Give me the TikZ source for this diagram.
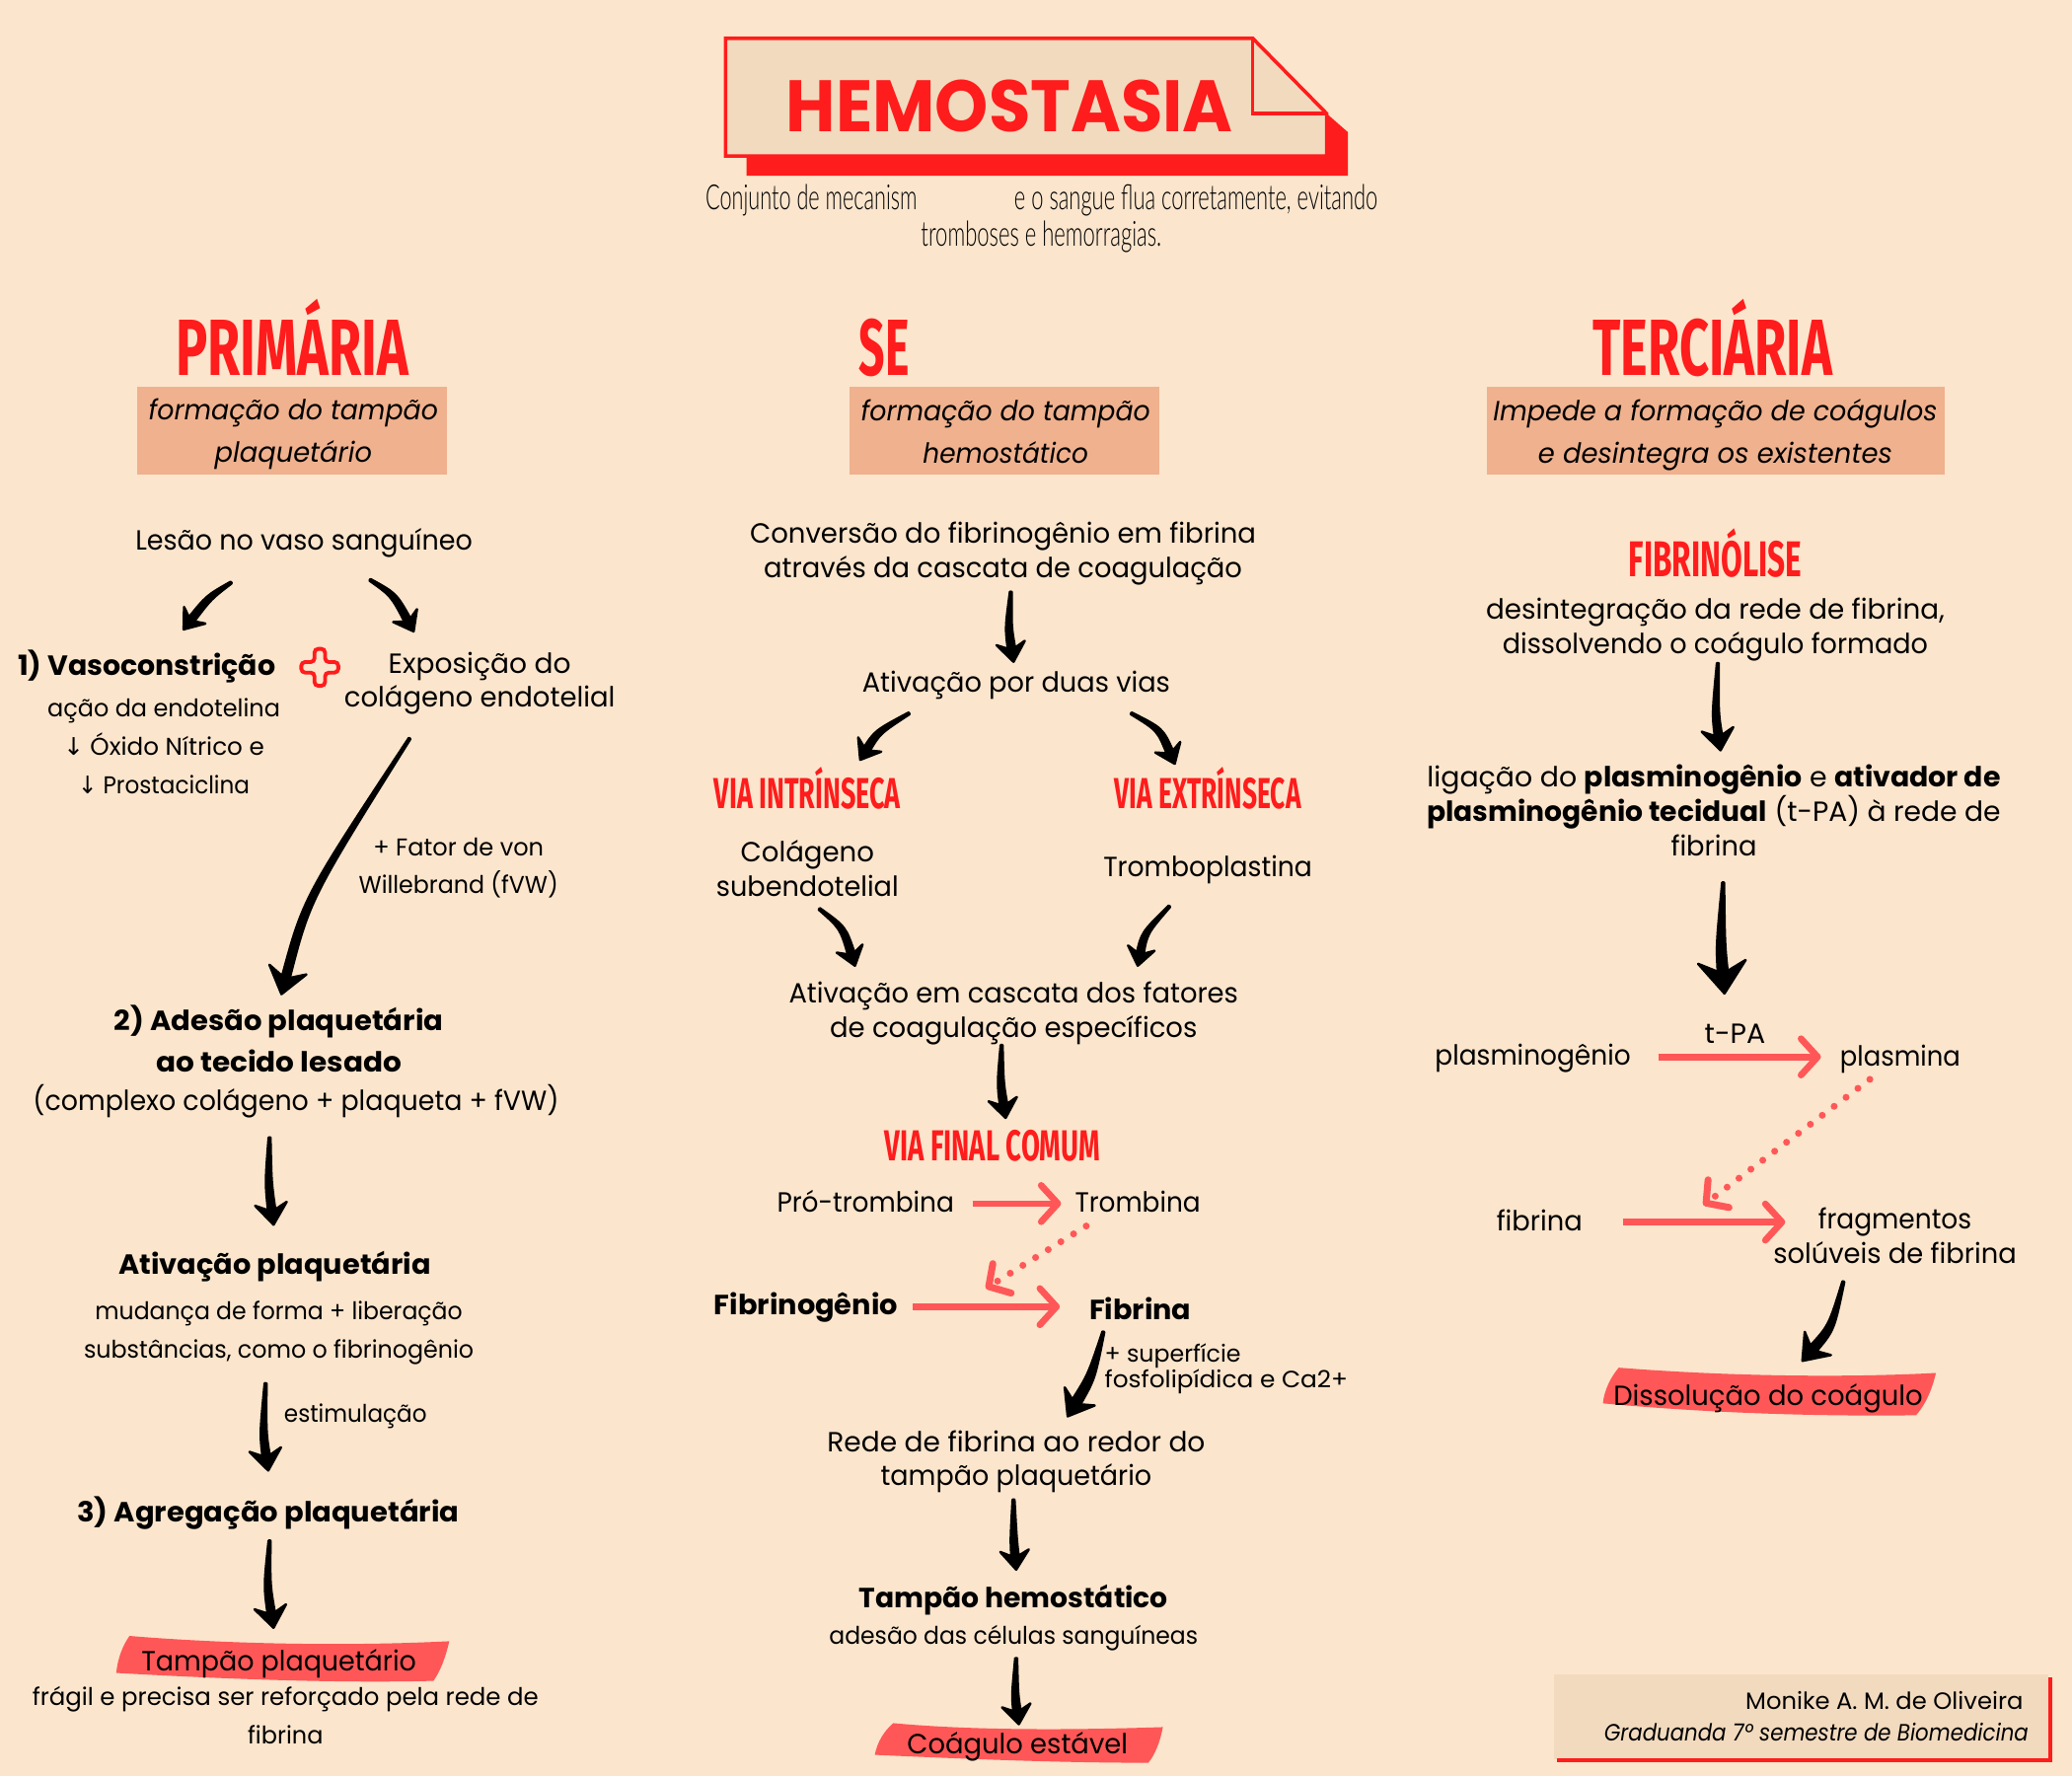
\documentclass[tikz,border=0pt]{standalone}
\usepackage{fontspec}
\usepackage{graphicx}
\usetikzlibrary{calc,arrows.meta}
\setmainfont{Poppins}
\newfontfamily\headf{Fira Sans}
\newfontfamily\thinf{Lato Light}
\newfontfamily\symf{DejaVu Sans}
\definecolor{bgc}{HTML}{FBE5CC}
\definecolor{boxc}{HTML}{F2DABE}
\definecolor{subc}{HTML}{F0B18E}
\definecolor{redc}{HTML}{FF1C1C}
\definecolor{coral}{HTML}{FF5757}
\newlength\pxu
\setlength\pxu{0.0133929cm}
\newcommand\fitl[2]{\rule[-.155em]{0pt}{1em}\resizebox{#1\pxu}{\height}{#2}}
\newcommand\ofs[2]{($(#1)+(#2)$)}
\newcommand\brush[5][2.6]{%
  \pgfmathsetlengthmacro\hl{#2*\pxu}%
  \pgfmathsetlengthmacro\hw{#1*\pxu}%
  \pgfmathsetlengthmacro\hc{0.85*#1*\pxu}%
  \pgfmathsetlengthmacro\tw{0.7*\pxu}%
  \pgfmathsetlengthmacro\hn{0.5*#2*\pxu}%
  \path #3 coordinate (bS);
  \path #4 coordinate (bC);
  \path #5 coordinate (bT);
  \coordinate (bN) at ($(bT)!\hn!(bC)$);
  \coordinate (bL) at ($(bN)!\hw!90:(bT)$);
  \coordinate (bR) at ($(bN)!\hw!-90:(bT)$);
  \coordinate (sL) at ($(bS)!\tw!90:(bC)$);
  \coordinate (sR) at ($(bS)!\tw!-90:(bC)$);
  \coordinate (cL) at ($(bC)!\hc!90:(bT)$);
  \coordinate (cR) at ($(bC)!\hc!-90:(bT)$);
  \coordinate (hL) at ($(bT)!\hl!-37:(bC)$);
  \coordinate (hR) at ($(bT)!\hl!37:(bC)$);
  \filldraw[brushstyle] (sL) .. controls (cL) .. (bL) .. controls (bN) .. (hL) -- (bT) -- (hR) .. controls (bN) .. (bR) .. controls (cR) .. (sR) -- cycle;
}
\tikzset{
  brushstyle/.style={black,line width=0.7pt,line join=round},
  txt/.style={inner sep=0pt,outer sep=0pt,align=center,text=black,yshift=-0.5pt,font=\fontsize{8}{9.9}\selectfont},
  sm/.style={txt,font=\fontsize{7}{11}\selectfont},
  tiny/.style={txt,font=\fontsize{6.8}{7.6}\selectfont},
  bd/.style={txt,font=\fontsize{8}{12}\selectfont\bfseries},
  it/.style={txt,font=\fontsize{8}{12.2}\selectfont\itshape},
  h1/.style={inner sep=0pt,outer sep=0pt,text=redc,font=\fontsize{23}{24}\selectfont\headf\bfseries},
  h2/.style={inner sep=0pt,outer sep=0pt,text=redc,font=\fontsize{12.5}{13}\selectfont\headf\bfseries},
  h3/.style={inner sep=0pt,outer sep=0pt,text=redc,font=\fontsize{14.5}{15}\selectfont\headf\bfseries},
  thn/.style={inner sep=0pt,outer sep=0pt,text=black,font=\fontsize{10}{11}\selectfont\thinf},
  subbox/.style={fill=subc},
  swoosh/.style={fill=coral},
  pinkarrow/.style={coral,line width=1.9pt,-{Straight Barb[length=4.8pt,width=10.5pt,round]}},
  dotarrow/.style={coral,line width=2pt,line cap=round,dash pattern=on 0pt off 4.3pt,-{Straight Barb[length=4.5pt,width=10pt,round]}},
}
\begin{document}
\begin{tikzpicture}[x={(0.0133929cm,0)},y={(0,-0.0133929cm)}]
\fill[bgc] (0,0) rectangle (1568,1344);
\useasboundingbox (0,0) rectangle (1568,1344);

% title
\fill[redc] (565,118) -- (1004,118) -- (1004,86) -- (1020,100) -- (1020,133) -- (565,133) -- cycle;
\filldraw[fill=boxc,draw=redc,line width=1pt,line join=miter] (549,29) -- (948,29) -- (1004,86) -- (1004,118) -- (549,118) -- cycle;
\draw[redc,line width=1pt] (948,29) -- (948,86) -- (1004,86);
\node[inner sep=0pt,text=redc,font=\fontsize{21}{22}\selectfont\bfseries] (title) at (764,81) {\fitl{338}{HEMOSTASIA}};
\node[thn] (sub1) at (614,150) {\fitl{160}{Conjunto de mecanism}};
\node[thn] (sub2) at (905,150) {\fitl{275}{e o sangue flua corretamente, evitando}};
\node[thn] (sub3) at (788,178) {\fitl{182}{tromboses e hemorragias.}};

% headings
\node[h1] (prim) at (221,260) {\fitl{176}{PRIMÁRIA}};
\node[h1] (sec) at (669,263) {\fitl{38}{SE}};
\node[h1] (terc) at (1296,260) {\fitl{181}{TERCIÁRIA}};
\fill[subbox] (104,293) rectangle (338,359);
\fill[subbox] (643,293) rectangle (877,359);
\fill[subbox] (1125,293) rectangle (1472,359);
\node[it] (s1) at (222,326) {\fitl{219}{formação do tampão}\\\fitl{119}{plaquetário}};
\node[it] (s2) at (761,326) {\fitl{219}{formação do tampão}\\\fitl{125}{hemostático}};
\node[it] (s3) at (1298,327) {\fitl{336}{Impede a formação de coágulos}\\\fitl{268}{e desintegra os existentes}};

% left column
\node[txt] (les) at (230,409) {\fitl{255}{Lesão no vaso sanguíneo}};
\node[bd] (vaso) at (111,503) {\fitl{195}{1) Vasoconstrição}};
\draw[redc,line width=1.1pt,rounded corners=1.1pt] (238,491) -- (246,491) -- (246,501) -- (256,501) -- (256,509) -- (246,509) -- (246,519) -- (238,519) -- (238,509) -- (228,509) -- (228,501) -- (238,501) -- cycle;
\node[txt] (expo) at (363,515) {\fitl{138}{Exposição do}\\\fitl{205}{colágeno endotelial}};
\node[sm] (acao) at (124,564) {\fitl{176}{ação da endotelina}\\\fitl{152}{{\symf ↓} Óxido Nítrico e}\\\fitl{130}{{\symf ↓} Prostaciclina}};
\node[sm] (vwf) at (347,654.5) {\fitl{129}{+ Fator de von}\\\fitl{151}{Willebrand (fVW)}};
\node[bd] (ades) at (211,786) {\fitl{249}{2) Adesão plaquetária}\\\fitl{186}{ao tecido lesado}};
\node[txt] (compl) at (224,832) {\fitl{398}{(complexo colágeno + plaqueta + fVW)}};
\node[bd] (ativ) at (208,957) {\fitl{236}{Ativação plaquetária}};
\node[sm] (mud) at (211,1006.5) {\fitl{278}{mudança de forma + liberação}\\\fitl{295}{substâncias, como o fibrinogênio}};
\node[sm] (estim) at (269,1070) {\fitl{108}{estimulação}};
\node[bd] (agreg) at (203,1144) {\fitl{289}{3) Agregação plaquetária}};
\fill[swoosh] (98,1238) .. controls (170,1244) and (260,1246) .. (340,1242) .. controls (337,1255) and (333,1265) .. (328,1272) .. controls (250,1274) and (160,1270) .. (88,1266) .. controls (89,1255) and (93,1245) .. (98,1238) -- cycle;
\node[txt] (tamp) at (211,1257) {\fitl{208}{Tampão plaquetário}};
\node[sm] (frag1) at (216,1297.5) {\fitl{383}{frágil e precisa ser reforçado pela rede de}\\\fitl{57}{fibrina}};

\brush{17}{\ofs{les}{-55,30.5}}{(158,452)}{\ofs{vaso}{28,-28}}
\brush{17}{\ofs{les}{50,28.5}}{(298,450)}{\ofs{expo}{-50,-38.5}}
\brush[3]{24}{\ofs{expo}{-53,42.5}}{(232,680)}{\ofs{ades}{2,-35}}
\brush[2.8]{20}{\ofs{compl}{-20,27.5}}{(203,895)}{\ofs{ativ}{-1,-31.5}}
\brush[2.8]{20}{\ofs{mud}{-10,39}}{(199,1085)}{\ofs{agreg}{0,-32.5}}
\brush[2.8]{20}{\ofs{agreg}{1,20.5}}{(202,1200)}{\ofs{tamp}{-4,-26.5}}

% middle column
\node[txt] (conv) at (759,417) {\fitl{383}{Conversão do fibrinogênio em fibrina}\\\fitl{362}{através da cascata de coagulação}};
\node[txt] (duas) at (769,516) {\fitl{233}{Ativação por duas vias}};
\node[h2] (vint) at (611,598.5) {\fitl{141}{VIA INTRÍNSECA}};
\node[h2] (vext) at (914,598.5) {\fitl{141}{VIA EXTRÍNSECA}};
\node[txt] (col) at (611,656.5) {\fitl{101}{Colágeno}\\\fitl{138}{subendotelial}};
\node[txt] (trp) at (914,656) {\fitl{158}{Tromboplastina}};
\node[txt] (casc) at (767,764.5) {\fitl{340}{Ativação em cascata dos fatores}\\\fitl{278}{de coagulação específicos}};
\node[h2] (final) at (751,867) {\fitl{163}{VIA FINAL COMUM}};
\node[txt] (pro) at (655,909) {\fitl{134}{Pró-trombina}};
\node[txt] (tro) at (861,909) {\fitl{95}{Trombina}};
\node[bd] (fibg) at (610,988) {\fitl{139}{Fibrinogênio}};
\node[bd] (fib) at (863,990) {\fitl{77}{Fibrina}};
\node[tiny,align=left,anchor=west] (sup) at (836,1034) {\fitl{103}{+ superfície}\\\fitl{184}{fosfolipídica e Ca2+}};
\node[txt] (rede) at (769,1104) {\fitl{286}{Rede de fibrina ao redor do}\\\fitl{205}{tampão plaquetário}};
\node[bd] (tamph) at (767,1209) {\fitl{234}{Tampão hemostático}};
\node[sm] (adesc) at (767,1238) {\fitl{279}{adesão das células sanguíneas}};
\fill[swoosh] (676,1304) .. controls (740,1310) and (820,1309) .. (880,1307) .. controls (878,1318) and (874,1328) .. (869,1334) .. controls (800,1334) and (730,1331) .. (662,1328) .. controls (664,1318) and (669,1310) .. (676,1304) -- cycle;
\node[txt] (coag) at (770,1320) {\fitl{167}{Coágulo estável}};

\brush[2.8]{18}{\ofs{conv}{6,29.5}}{(763,475)}{\ofs{duas}{-2,-16.5}}
\brush{17}{\ofs{duas}{-81,22.5}}{(664,554)}{\ofs{vint}{40,-23.5}}
\brush{17}{\ofs{duas}{87,22.5}}{(878,552)}{\ofs{vext}{-25,-20.5}}
\brush{17}{\ofs{col}{9,30}}{(638,702)}{\ofs{casc}{-120,-35}}
\brush{17}{\ofs{trp}{-29,28.5}}{(866,706)}{\ofs{casc}{94,-35}}
\brush[2.8]{18}{\ofs{casc}{-9,25}}{(757,820)}{\ofs{final}{10,-21}}
\brush[3.6]{22}{\ofs{fib}{-28,16.5}}{(826,1042)}{\ofs{rede}{39,-33.5}}
\brush[2.8]{18}{\ofs{rede}{-2,29.5}}{(767,1165)}{\ofs{tamph}{2,-22.5}}
\brush[2.8]{18}{\ofs{adesc}{2,15.5}}{(768,1283)}{\ofs{coag}{1,-16.5}}

\draw[pinkarrow] \ofs{pro}{81,0.5} -- \ofs{tro}{-58,0.5};
\draw[pinkarrow] \ofs{fibg}{81,-0.5} -- \ofs{fib}{-61,-2.5};
\coordinate (dot1) at (746,975);
\draw[dotarrow] \ofs{tro}{-39,17.5} -- (dot1);

% right column
\node[h3] (fl) at (1298,421.5) {\fitl{131}{FIBRINÓLISE}};
\node[txt] (desint) at (1298,474) {\fitl{347}{desintegração da rede de fibrina,}\\\fitl{322}{dissolvendo o coágulo formado}};
\node[txt] (lig) at (1297,613) {\fitl{434}{ligação do \textbf{plasminogênio} e \textbf{ativador de}}\\\fitl{434}{\textbf{plasminogênio tecidual} (t-PA) à rede de}\\\fitl{65}{fibrina}};
\node[txt] (tpa) at (1313,781) {\fitl{46}{t-PA}};
\node[txt] (plg) at (1160,799) {\fitl{148}{plasminogênio}};
\node[txt] (pla) at (1438,799) {\fitl{91}{plasmina}};
\node[txt] (ffb) at (1165,923) {\fitl{65}{fibrina}};
\node[txt] (frag) at (1434,934.5) {\fitl{116}{fragmentos}\\\fitl{184}{solúveis de fibrina}};
\fill[swoosh] (1225,1035) .. controls (1300,1041) and (1390,1043) .. (1465,1039) .. controls (1462,1052) and (1457,1063) .. (1450,1071) .. controls (1370,1072) and (1290,1069) .. (1213,1062) .. controls (1214,1052) and (1219,1042) .. (1225,1035) -- cycle;
\node[txt] (diss) at (1338,1056) {\fitl{234}{Dissolução do coágulo}};

\brush[2.8]{20}{\ofs{desint}{2,26.5}}{(1298,540)}{\ofs{lig}{5,-46.5}}
\brush[3.8]{30}{\ofs{lig}{7,53.5}}{(1302,715)}{\ofs{tpa}{-8,-30.5}}
\brush[3.2]{22}{\ofs{frag}{-39,34}}{(1386,1005)}{\ofs{diss}{26,-27.5}}

\draw[pinkarrow] \ofs{plg}{95,-0.5} -- \ofs{pla}{-60,-0.5};
\draw[pinkarrow] \ofs{ffb}{63,0.5} -- \ofs{frag}{-83,-11};
\coordinate (dot2) at (1289,912);
\draw[dotarrow] \ofs{pla}{-23,16.5} -- (dot2);

% credit
\fill[boxc] (1176,1267) rectangle (1550,1331);
\draw[redc,line width=1pt] (1551.5,1269) -- (1551.5,1332) -- (1178,1332);
\node[tiny,anchor=east] (cr1) at (1531,1286) {\fitl{210}{Monike A. M. de Oliveira}};
\node[tiny,anchor=east,font=\fontsize{6.8}{7.6}\selectfont\itshape] (cr2) at (1535,1310) {\fitl{321}{Graduanda 7º semestre de Biomedicina}};
\end{tikzpicture}
\end{document}
